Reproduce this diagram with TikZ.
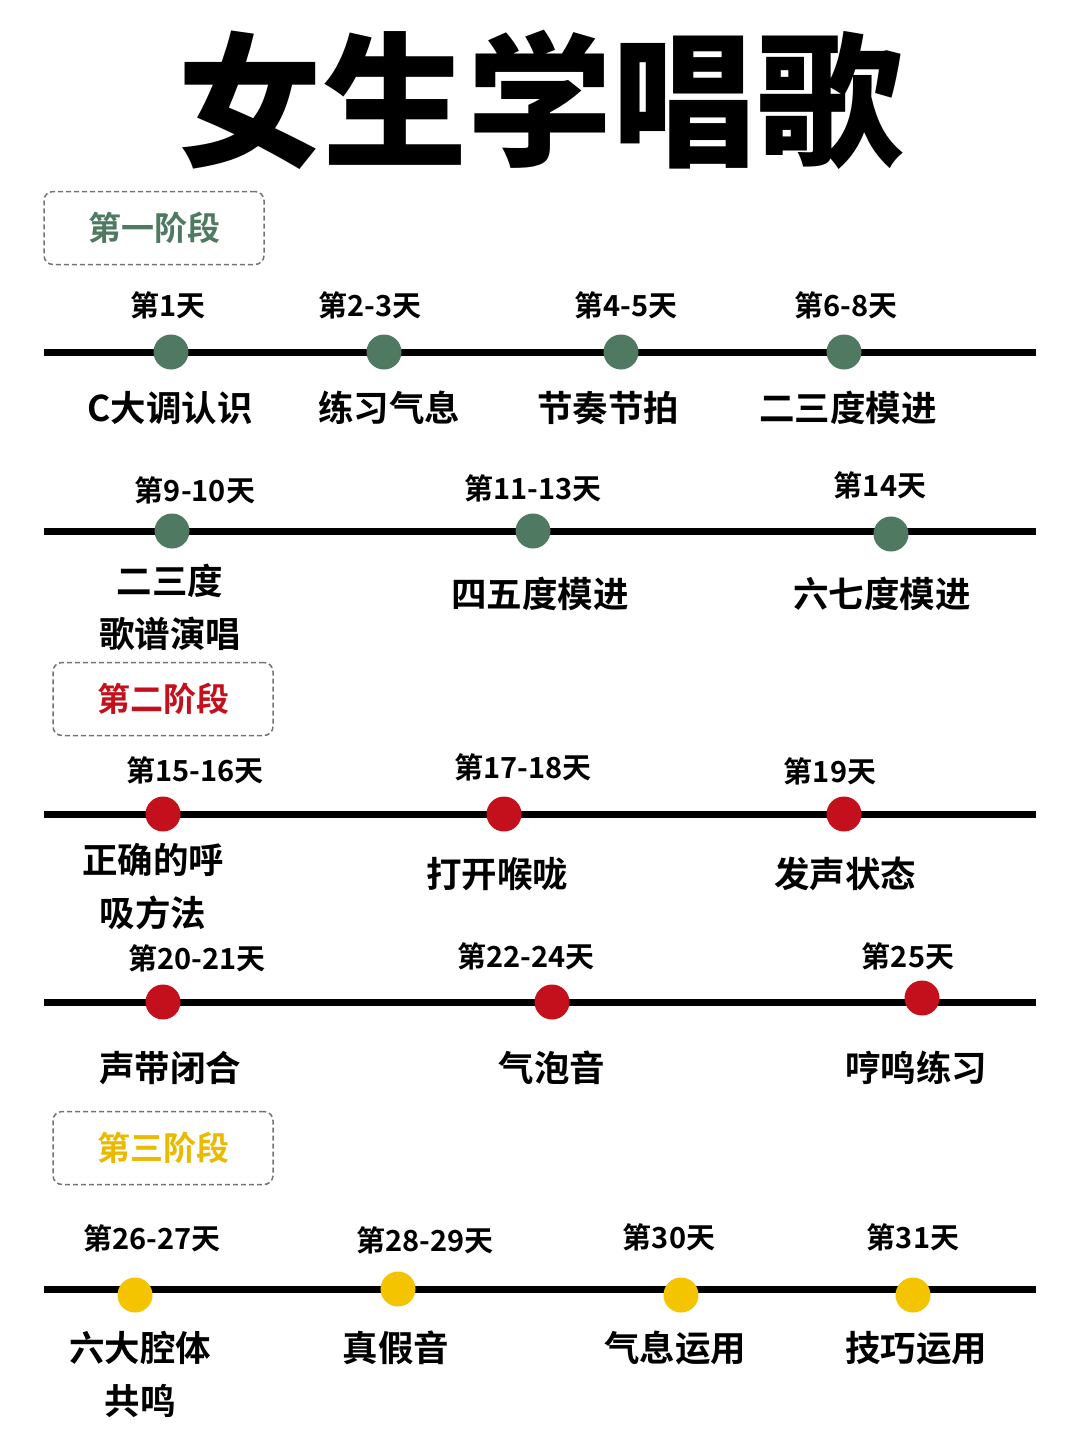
\documentclass[tikz,border=0pt]{standalone}
\usepackage{fontspec}
\newfontfamily\cjk{Noto Sans CJK SC}[BoldFont={Noto Sans CJK SC Bold}]
\newfontfamily\cjkblack{Noto Sans CJK SC Black}
\definecolor{gr}{HTML}{4F7A61}
\definecolor{rd}{HTML}{C4101C}
\definecolor{yl}{HTML}{F5C400}
\begin{document}
\begin{tikzpicture}[x=1pt,y=-1pt,
  tl/.style={line width=7pt,black},
  dot/.style={circle,minimum size=35pt,inner sep=0pt},
  up/.style={font=\cjk\bfseries\fontsize{29}{32}\selectfont,inner sep=0pt},
  dn/.style={font=\cjk\bfseries\fontsize{35.5}{53}\selectfont,inner sep=0pt,align=center},
  stage/.style={draw=gray!90!black,dash pattern=on 5pt off 3pt,line width=1.5pt,rounded corners=9pt,minimum width=220pt,minimum height=73pt,font=\cjk\bfseries\fontsize{33}{36}\selectfont}]
\useasboundingbox[fill=white] (0,0) rectangle (1080,1440);
\node[font=\cjkblack\fontsize{145}{145}\selectfont,inner sep=0pt] (title) at (540,100) {女生学唱歌};
\node[stage,text=gr] (s1) at (154,228) {第一阶段};
\node[stage,text=rd] (s2) at (163,699) {第二阶段};
\node[stage,text=yl!95!black] (s3) at (163,1148) {第三阶段};
% row lines
\foreach \y/\n in {352/a,531/b,814/c,1002/d,1289/e}{
  \coordinate (\n L) at (44,\y); \coordinate (\n R) at (1036,\y);
  \draw[tl] (\n L) -- (\n R);}
% row 1
\foreach \x/\t/\tx/\b/\bx [count=\i] in {171/第1天/168/C大调认识/170,384/第2-3天/370/练习气息/389,621/第4-5天/626/节奏节拍/608,844/第6-8天/846/二三度模进/848}{
  \node[dot,fill=gr] (a\i) at (\x,352) {};
  \node[up] (at\i) at (\tx,305) {\t};
  \node[dn] (ab\i) at (\bx,408) {\b};}
% row 2
\node[dot,fill=gr] (b1) at (172,531) {};
\node[dot,fill=gr] (b2) at (533,531) {};
\node[dot,fill=gr] (b3) at (891,534) {};
\node[up] at (195,490) {第9-10天};
\node[up] at (533,488) {第11-13天};
\node[up] at (880,485) {第14天};
\node[dn] at (170,607) {二三度\\歌谱演唱};
\node[dn] at (540,594) {四五度模进};
\node[dn] at (882,594) {六七度模进};
% row 3
\node[dot,fill=rd] (c1) at (163,814) {};
\node[dot,fill=rd] (c2) at (504,814) {};
\node[dot,fill=rd] (c3) at (844,814) {};
\node[up] at (195,770) {第15-16天};
\node[up] at (523,767) {第17-18天};
\node[up] at (830,771) {第19天};
\node[dn] at (153,887) {正确的呼\\吸方法};
\node[dn] at (497,874) {打开喉咙};
\node[dn] at (845,874) {发声状态};
% row 4
\node[dot,fill=rd] (d1) at (163,1002) {};
\node[dot,fill=rd] (d2) at (552,1002) {};
\node[dot,fill=rd] (d3) at (922,998) {};
\node[up] at (197,958) {第20-21天};
\node[up] at (526,956) {第22-24天};
\node[up] at (908,956) {第25天};
\node[dn] at (170,1068) {声带闭合};
\node[dn] at (552,1068) {气泡音};
\node[dn] at (916,1068) {哼鸣练习};
% row 5
\node[dot,fill=yl] (e1) at (135,1295) {};
\node[dot,fill=yl] (e2) at (398,1289) {};
\node[dot,fill=yl] (e3) at (681,1295) {};
\node[dot,fill=yl] (e4) at (913,1295) {};
\node[up] at (152,1238) {第26-27天};
\node[up] at (425,1240) {第28-29天};
\node[up] at (669,1237) {第30天};
\node[up] at (913,1237) {第31天};
\node[dn] at (140,1374) {六大腔体\\共鸣};
\node[dn] at (396,1348) {真假音};
\node[dn] at (675,1348) {气息运用};
\node[dn] at (916,1348) {技巧运用};
\end{tikzpicture}
\end{document}
